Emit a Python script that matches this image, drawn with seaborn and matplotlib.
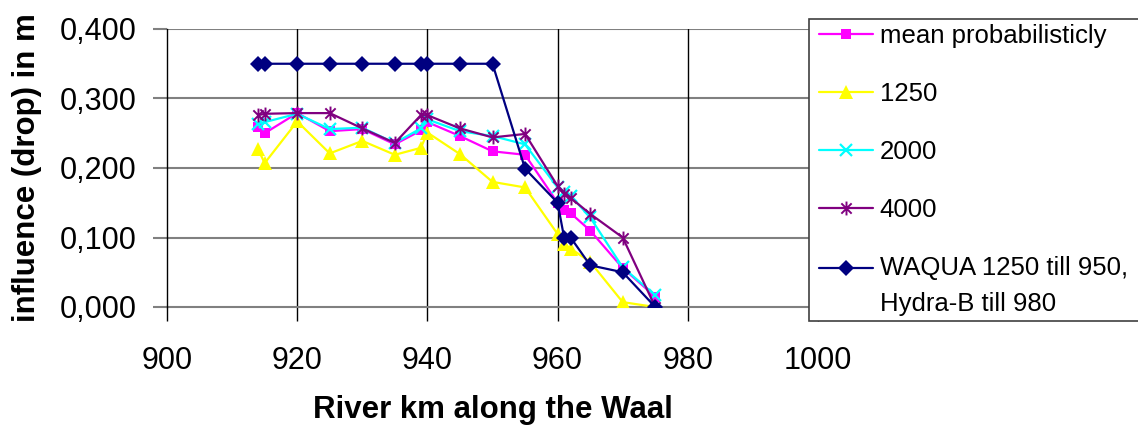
import matplotlib
matplotlib.use("Agg")
import numpy as np
import matplotlib.pyplot as plt
from matplotlib.lines import Line2D
from matplotlib.path import Path
from matplotlib.transforms import IdentityTransform
from matplotlib.legend_handler import HandlerLine2D
from matplotlib.ticker import FuncFormatter, MultipleLocator
import seaborn as sns
import pandas as pd

# River kilometre positions along the Waal
river_km = [914, 915, 920, 925, 930, 935, 939, 940, 945, 950,
            955, 960, 961, 962, 965, 970, 975]

# Water level drop (m) per scenario
mean_prob = [0.259, 0.250, 0.279, 0.253, 0.256, 0.234, 0.254, 0.266, 0.246, 0.224,
             0.219, 0.150, 0.139, 0.135, 0.110, 0.056, 0.015]
q1250 = [0.227, 0.207, 0.267, 0.221, 0.239, 0.219, 0.229, 0.251, 0.220, 0.180,
         0.172, 0.105, 0.091, 0.084, 0.065, 0.007, 0.000]
q2000 = [0.264, 0.266, 0.278, 0.256, 0.258, 0.236, 0.257, 0.270, 0.253, 0.246,
         0.234, 0.172, 0.165, 0.160, 0.129, 0.057, 0.017]
q4000 = [0.276, 0.278, 0.279, 0.279, 0.257, 0.236, 0.276, 0.276, 0.257, 0.244,
         0.249, 0.174, 0.163, 0.157, 0.134, 0.100, 0.000]
waqua = [0.350, 0.350, 0.350, 0.350, 0.350, 0.350, 0.350, 0.350, 0.350, 0.350,
         0.199, 0.150, 0.100, 0.100, 0.060, 0.050, 0.000]

series_labels = ["mean probabilisticly", "1250", "2000", "4000",
                 "WAQUA 1250 till 950,\nHydra-B till 980"]
x_ticks = [900, 920, 940, 960, 980, 1000]

sns.set_style("white")
plt.rcParams["font.family"] = ["Liberation Sans", "DejaVu Sans"]
plt.rcParams.update({"text.color": "black", "axes.labelcolor": "black",
                     "xtick.color": "black", "ytick.color": "black"})

# asterisk marker: an "x" with a vertical bar through it
asterisk = Path([(-1, -1), (1, 1), (-1, 1), (1, -1), (0, -1.35), (0, 1.35)],
                [Path.MOVETO, Path.LINETO, Path.MOVETO, Path.LINETO,
                 Path.MOVETO, Path.LINETO])

styles = [
    dict(color="#FF00FF", marker="s", markersize=7, markeredgewidth=0),
    dict(color="#FFFF00", marker="^", markersize=10, markeredgewidth=0),
    dict(color="#00FFFF", marker="x", markersize=8, markeredgewidth=1.6),
    dict(color="#800080", marker=asterisk, markersize=10, markeredgewidth=1.4),
    dict(color="#000080", marker="D", markersize=8, markeredgewidth=0),
]


class FirstLineHandler(HandlerLine2D):
    """Legend handle aligned with the first line of a two-line label."""

    def __init__(self, shift, **kw):
        super().__init__(**kw)
        self._shift = shift

    def create_artists(self, legend, orig_handle, xdescent, ydescent,
                       width, height, fontsize, trans):
        arts = super().create_artists(legend, orig_handle, xdescent, ydescent,
                                      width, height, fontsize, trans)
        for a in arts:
            a.set_ydata(np.asarray(a.get_ydata(), dtype=float) + self._shift)
        return arts


fig = plt.figure(figsize=(11.38, 4.25), dpi=100)
ax = fig.add_axes([167 / 1138, 118 / 425, 651 / 1138, 278 / 425])

values = [mean_prob, q1250, q2000, q4000, waqua]
for label, vals, st in zip(series_labels, values, styles):
    df = pd.DataFrame({"km": river_km, "drop": vals})
    sns.lineplot(data=df, x="km", y="drop", ax=ax, label=label,
                 linewidth=1.6, markeredgecolor=st["color"], zorder=3, **st)

ax.set_xlim(900, 1000)
ax.set_ylim(0, 0.4)
ax.set_xticks(x_ticks)
ax.yaxis.set_major_locator(MultipleLocator(0.1))
ax.yaxis.set_major_formatter(FuncFormatter(lambda v, p: f"{v:.3f}".replace(".", ",")))

# gridlines: grey horizontals, black verticals
for yv in [0.1, 0.2, 0.3, 0.4]:
    ax.axhline(yv, color="#808080", lw=1.5, zorder=1)
for xv in [920, 940, 960, 980, 1000]:
    ax.axvline(xv, color="black", lw=1.0, zorder=1)

for side in ["top", "right"]:
    ax.spines[side].set_visible(False)
ax.spines["left"].set_color("black")
ax.spines["left"].set_linewidth(1.0)
ax.spines["bottom"].set_color("#808080")
ax.spines["bottom"].set_linewidth(1.5)
ax.spines["bottom"].set_zorder(2)

ax.tick_params(axis="x", direction="out", length=10, width=1.0, color="black",
               labelsize=22, pad=18, bottom=True)
ax.tick_params(axis="y", direction="out", length=10, width=1.5, color="#808080",
               labelsize=22, pad=12, left=True)

ax.set_xlabel("River km along the Waal", fontsize=22.5, fontweight="bold")
ax.set_ylabel("influence (drop) in m", fontsize=22.5, fontweight="bold")
ax.xaxis.set_label_coords(0.5, -0.372)
ax.xaxis.label.set_va("center")
ax.yaxis.set_label_coords(-0.215, 0.5)
ax.yaxis.label.set_va("center")

handles, labels = ax.get_legend_handles_labels()
leg = ax.legend(handles, labels, loc="upper left",
                bbox_to_anchor=(809 / 1138, 406 / 425, 420 / 1138, 0.0),
                bbox_transform=fig.transFigure, fontsize=18.5, frameon=True,
                fancybox=False, borderaxespad=0, borderpad=0.2, labelspacing=1.32,
                handlelength=2.3, handletextpad=0.25, mode="expand",
                handler_map={Line2D: HandlerLine2D(xpad=0.2),
                             handles[4]: FirstLineHandler(shift=13.3, xpad=0.2)})
frame = leg.get_frame()
frame.set_edgecolor("none")
frame.set_alpha(1)
for t in leg.get_texts():
    t.set_linespacing(1.66)
    t.set_color("black")

# legend border runs off the right edge of the figure: stroke only left/top/bottom
fig.canvas.draw()
bb = frame.get_window_extent()
x_right = fig.bbox.width + 20
border = Line2D([x_right, bb.x0, bb.x0, x_right], [bb.y1, bb.y1, bb.y0, bb.y0],
                transform=IdentityTransform(), color="#404040", lw=1.2,
                solid_joinstyle="miter")
fig.add_artist(border)
border.set_zorder(10)

fig.savefig("out.png", dpi=100)
